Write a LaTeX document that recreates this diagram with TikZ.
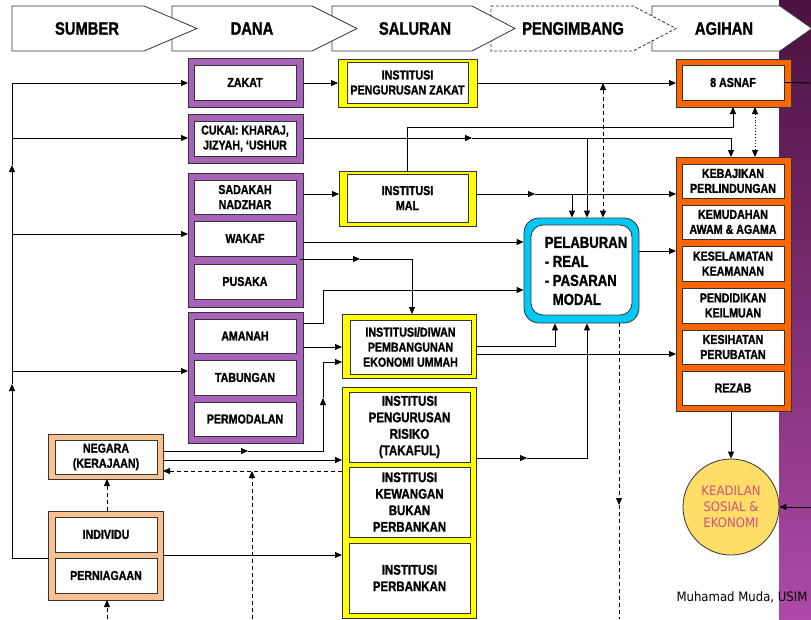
\documentclass[tikz,border=0pt]{standalone}
\usepackage{fontspec}
\usetikzlibrary{arrows.meta,calc}
\newfontfamily\nar[FakeStretch=0.82,FakeBold=1.2]{Liberation Sans Bold}
\newfontfamily\tah[FakeStretch=0.9]{DejaVu Sans}
\definecolor{purp}{HTML}{A962B9}
\definecolor{yel}{HTML}{FFFF00}
\definecolor{ora}{HTML}{FF6600}
\definecolor{pea}{HTML}{FAC090}
\definecolor{cya}{HTML}{00C8F5}
\definecolor{circf}{HTML}{FFDD66}
\definecolor{pinkt}{HTML}{CC5080}
\definecolor{stripT}{HTML}{4A1240}
\definecolor{stripB}{HTML}{AD4AA8}
\definecolor{edge}{HTML}{333333}
\begin{document}
\begin{tikzpicture}[x=1pt,y=-1pt,
  >={Triangle[length=7pt,width=6pt]},
  grp/.style={draw=edge, line width=0.8pt, inner sep=0pt, outer sep=0pt},
  sz/.style 2 args={minimum width=#1, minimum height=#2},
  inb/.style={draw=edge, fill=white, line width=0.8pt, inner sep=1pt, outer sep=0pt, align=center, font=\nar\fontsize{13}{15}\selectfont},
  inst/.style={inb, font=\nar\fontsize{14}{16.5}\selectfont},
  conn/.style={draw=black, line width=0.9pt},
  dsh/.style={conn, dash pattern=on 4pt off 3pt},
  hdr/.style={draw=edge, fill=white, line width=0.8pt},
  htxt/.style={font=\nar\fontsize{18}{20}\selectfont, inner sep=0pt},
]
\useasboundingbox (0,0) rectangle (811,619);
\fill[white] (0,0) rectangle (811,619);
\shade[top color=stripT, bottom color=stripB] (779,0) rectangle (811,619);
% header chevrons
\draw[hdr] (652,6) -- (780,6) -- (812,28.5) -- (780,51) -- (652,51) -- cycle;
\draw[hdr, dash pattern=on 3pt off 2pt] (491,6) -- (633,6) -- (676,28.5) -- (633,51) -- (491,51) -- cycle;
\draw[hdr] (332,6) -- (472,6) -- (515,28.5) -- (472,51) -- (332,51) -- cycle;
\draw[hdr] (172,6) -- (312,6) -- (357,28.5) -- (312,51) -- (172,51) -- cycle;
\draw[hdr] (12,6) -- (144,6) -- (197,28.5) -- (144,51) -- (12,51) -- cycle;
\node[htxt] (hSumber) at (87,28.5) {SUMBER};
\node[htxt] (hDana) at (252,28.5) {DANA};
\node[htxt] (hSaluran) at (415,28.5) {SALURAN};
\node[htxt] (hPeng) at (573,28.5) {PENGIMBANG};
\node[htxt] (hAgihan) at (724,28.5) {AGIHAN};

% DANA groups
\node[grp, fill=purp, sz={115}{49}] (gZakat) at (245.5,82.5) {};
\node[grp, fill=purp, sz={115}{49}] (gCukai) at (245.5,138.5) {};
\node[grp, fill=purp, sz={115}{134}] (gSad) at (245.5,240) {};
\node[grp, fill=purp, sz={115}{131}] (gAm) at (245.5,377.5) {};
\node[inb, sz={102}{35}] (zakat) at (245,82.5) {ZAKAT};
\node[inb, sz={102}{35}] (cukai) at (245,138.5) {CUKAI: KHARAJ,\\JIZYAH, ‘USHUR};
\node[inb, sz={102}{34}] (sadakah) at (245,197) {SADAKAH\\NADZHAR};
\node[inb, sz={102}{35}] (wakaf) at (245,238.5) {WAKAF};
\node[inb, sz={102}{35}] (pusaka) at (245,281.5) {PUSAKA};
\node[inb, sz={102}{34}] (amanah) at (245,336) {AMANAH};
\node[inb, sz={102}{35}] (tabungan) at (245,377.5) {TABUNGAN};
\node[inb, sz={102}{34}] (permodalan) at (245,419) {PERMODALAN};

% SALURAN
\node[grp, fill=yel, sz={139}{48}] (gInZakat) at (407.5,83) {};
\node[inb, sz={121}{41}] (instZakat) at (407.5,82.5) {INSTITUSI\\PENGURUSAN ZAKAT};
\node[grp, fill=yel, sz={137}{55}] (gMal) at (407.5,198.5) {};
\node[inb, sz={121}{48}] (instMal) at (407.5,198) {INSTITUSI\\MAL};
\node[grp, fill=yel, sz={134}{64}] (gDiwan) at (409,346) {};
\node[inb, sz={121}{54}] (diwan) at (410.5,347) {INSTITUSI/DIWAN\\PEMBANGUNAN\\EKONOMI UMMAH};
\node[grp, fill=yel, sz={134}{231}] (gBig) at (409,502.5) {};
\node[inst, sz={121}{70}] (takaful) at (409.5,427) {INSTITUSI\\PENGURUSAN\\RISIKO\\(TAKAFUL)};
\node[inst, sz={121}{70}] (kewangan) at (409.5,502) {INSTITUSI\\KEWANGAN\\BUKAN\\PERBANKAN};
\node[inst, sz={121}{70}] (perbankan) at (409.5,578) {INSTITUSI\\PERBANKAN};

% PELABURAN
\node[draw=edge, line width=0.8pt, fill=cya, rounded corners=15pt, sz={115}{105}] (pelo) at (581.5,270.5) {};
\node[draw=edge, line width=0.8pt, fill=white, rounded corners=12pt, sz={101}{90}] (pel) at (581.5,270) {};
\node[align=left, inner sep=0pt, font=\nar\fontsize{16}{19}\selectfont] (peltext) at (586,271) {PELABURAN\\- REAL\\- PASARAN\\\phantom{- }MODAL};

% AGIHAN
\node[grp, fill=ora, sz={115}{48}] (gAsnaf) at (733.5,83) {};
\node[inb, sz={102}{35}] (asnaf) at (733,82.5) {8 ASNAF};
\node[grp, fill=ora, sz={115}{254}] (gAgih) at (733.5,284) {};
\node[inb, sz={102}{34}] (kebajikan) at (733,181) {KEBAJIKAN\\PERLINDUNGAN};
\node[inb, sz={102}{34}] (kemudahan) at (733,222) {KEMUDAHAN\\AWAM \& AGAMA};
\node[inb, sz={102}{35}] (keselamatan) at (733,263.5) {KESELAMATAN\\KEAMANAN};
\node[inb, sz={102}{35}] (pendidikan) at (733,305.5) {PENDIDIKAN\\KEILMUAN};
\node[inb, sz={102}{34}] (kesihatan) at (733,347) {KESIHATAN\\PERUBATAN};
\node[inb, sz={102}{34}] (rezab) at (733,388) {REZAB};

% SUMBER boxes
\node[grp, fill=pea, sz={115}{45}] (gNeg) at (105.5,456.5) {};
\node[inb, sz={102}{34}] (negara) at (106,457) {NEGARA\\(KERAJAAN)};
\node[grp, fill=pea, sz={115}{89}] (gInd) at (105.5,555.5) {};
\node[inb, sz={102}{35}] (individu) at (106,534.5) {INDIVIDU};
\node[inb, sz={102}{35}] (perniagaan) at (106,575.5) {PERNIAGAAN};

% circle and credit
\node[circle, draw=edge, line width=0.8pt, fill=circf, minimum size=96, inner sep=0pt, text=pinkt, align=center, font=\tah\fontsize{13}{16}\selectfont] (circ) at (731,507) {KEADILAN\\SOSIAL \&\\EKONOMI};
\node[font=\tah\fontsize{13}{15}\selectfont, inner sep=0pt] (credit) at (742,597) {Muhamad Muda, USIM};

% coordinates
\coordinate (t83) at (12,83);
\coordinate (t138) at (12,138);
\coordinate (tA1) at (12,165);
\coordinate (t234) at (12,234);
\coordinate (t371) at (12,371);
\coordinate (tA2) at (12,384);
\coordinate (tbot) at (12,558);
\coordinate (dz) at (603,83);
\coordinate (cuA) at (472,138);
\coordinate (cuB) at (587,138);
\coordinate (cuC) at (731,138);
\coordinate (mA) at (407.5,127);
\coordinate (mB) at (733,127);
\coordinate (dt) at (755,107);
\coordinate (sd) at (303,194);
\coordinate (mlA) at (535,194);
\coordinate (mlB) at (572,194);
\coordinate (wk) at (303,242);
\coordinate (wk2) at (300,259);
\coordinate (wk2a) at (360,259);
\coordinate (wk2b) at (412,259);
\coordinate (am1) at (303,323);
\coordinate (am2) at (323,323);
\coordinate (am3) at (323,290);
\coordinate (am4) at (303,347);
\coordinate (ng1) at (163,451);
\coordinate (ng2) at (248,451);
\coordinate (ng3) at (323,451);
\coordinate (ng4) at (323,398);
\coordinate (ng5) at (323,362);
\coordinate (ng6) at (163,460);
\coordinate (nd) at (342,471);
\coordinate (bd1) at (252,619);
\coordinate (bd2) at (252,471);
\coordinate (bd3) at (107,619);
\coordinate (in1) at (163,555);
\coordinate (dw1) at (476,346);
\coordinate (dw2) at (555,346);
\coordinate (dw3) at (476,354);
\coordinate (tk1) at (476,458);
\coordinate (tk2) at (527,458);
\coordinate (tk3) at (587,458);
\coordinate (pl) at (639,251);
\coordinate (pd1) at (619,323);
\coordinate (pd2) at (619,505);
\coordinate (pd3) at (619,619);
\coordinate (re) at (811,507);
\coordinate (re2) at (811,83);

% trunk
\draw[conn,->] (tbot -| gInd.west) -- (tbot) -- (tA2);
\draw[conn,->] (tA2) -- (tA1);
\draw[conn] (tA1) -- (t83);
\draw[conn,->] (t83) -- (t83 -| gZakat.west);
\draw[conn,->] (t138) -- (t138 -| gCukai.west);
\draw[conn,->] (t234) -- (t234 -| gSad.west);
\draw[conn,->] (t371) -- (t371 -| gAm.west);

% zakat
\draw[conn,->] (gZakat.east |- dz) -- (dz -| gInZakat.west);
\draw[conn,->] (gInZakat.east |- dz) -- (dz -| gAsnaf.west);
\draw[dsh,<->] (dz) -- (dz |- pelo.north);
% cukai
\draw[conn,->] (gCukai.east |- cuA) -- (cuA);
\draw[conn,->] (cuA) -- (cuC) -- (cuC |- gAgih.north);
\draw[conn,->] (cuB) -- (cuB |- pelo.north);
% mal up to asnaf
\draw[conn,->] (mA |- gMal.north) -- (mA) -- (mB) -- (mB |- gAsnaf.south);
\draw[conn, dotted, <->] (dt |- gAsnaf.south) -- (dt |- gAgih.north);
% sadakah -> mal
\draw[conn,->] (sd) -- (sd -| gMal.west);
\draw[conn,->] (gMal.east |- mlA) -- (mlA);
\draw[conn,->] (mlA) -- (mlA -| gAgih.west);
\draw[conn,->] (mlB) -- (mlB |- pelo.north);
% wakaf
\draw[conn,->] (wk) -- (wk -| pelo.west);
\draw[conn,->] (wk2) -- (wk2a);
\draw[conn,->] (wk2a) -- (wk2b) -- (wk2b |- gDiwan.north);
% amanah
\draw[conn,->] (am1) -- (am2) -- (am3) -- (am3 -| pelo.west);
\draw[conn,->] (am4) -- (am4 -| gDiwan.west);
% negara
\draw[conn,->] (ng1) -- (ng2);
\draw[conn,->] (ng2) -- (ng3) -- (ng4);
\draw[conn,->] (ng4) -- (ng5) -- (ng5 -| gDiwan.west);
\draw[conn,->] (ng6) -- (ng6 -| gBig.west);
\draw[dsh,->] (nd) -- (nd -| gNeg.east);
\draw[dsh,->] (bd1) -- (bd2);
\draw[dsh,->] (bd3 |- gInd.north) -- (bd3 |- gNeg.south);
\draw[dsh,->] (bd3) -- (bd3 |- gInd.south);
\draw[conn,->] (in1) -- (in1 -| gBig.west);
% diwan
\draw[conn,->] (dw1) -- (dw2) -- (dw2 |- pelo.south);
\draw[conn,->] (dw3) -- (dw3 -| gAgih.west);
% takaful
\draw[conn,->] (tk1) -- (tk2);
\draw[conn,->] (tk2) -- (tk3) -- (tk3 |- pelo.south);
% pelaburan
\draw[conn,->] (pl) -- (pl -| gAgih.west);
\draw[dsh,->] (pd1) -- (pd2);
\draw[dsh] (pd2) -- (pd3);
% agihan
\draw[conn,->] (circ.north |- gAgih.south) -- (circ.north);
\draw[conn,->] (re) -- (circ.east);
\draw[conn] (asnaf.east) -- (re2);
\end{tikzpicture}
\end{document}
